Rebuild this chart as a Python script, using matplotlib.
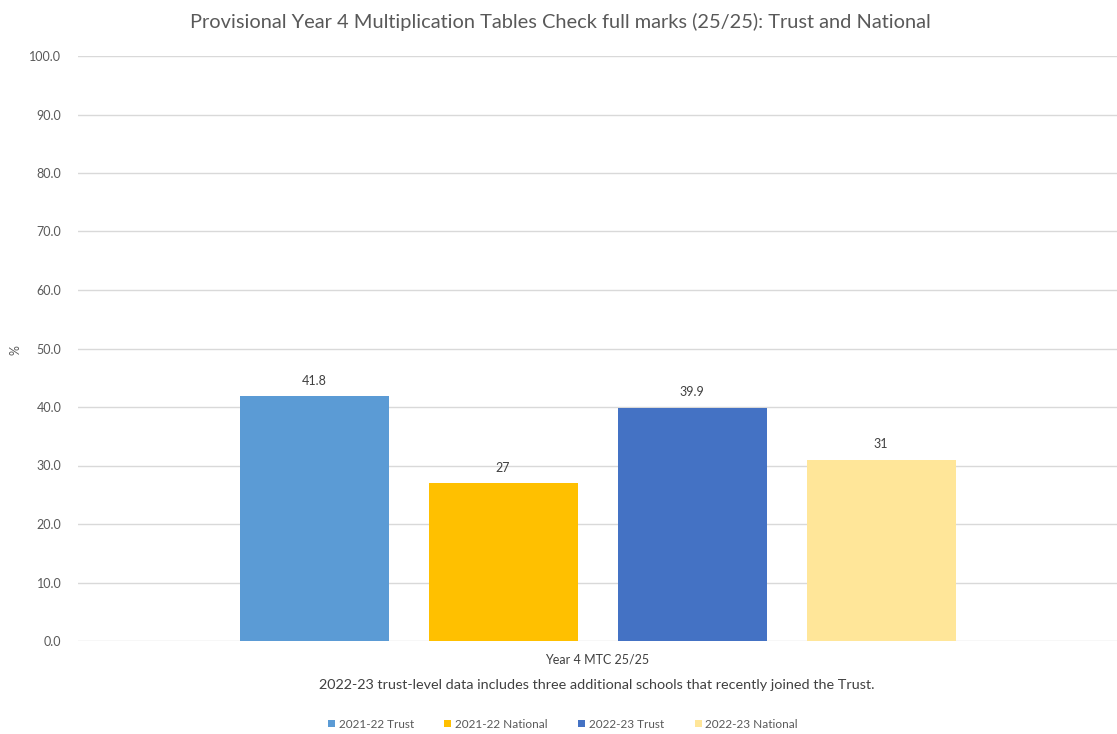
import matplotlib
matplotlib.use("Agg")
import matplotlib.pyplot as plt
from matplotlib.ticker import FuncFormatter, MultipleLocator
from matplotlib.patches import Patch

plt.rcParams['font.family'] = ['Lato', 'DejaVu Sans']

series = ["2021-22 Trust", "2021-22 National", "2022-23 Trust", "2022-23 National"]
values = [41.8, 27, 39.9, 31]
value_labels = ["41.8", "27", "39.9", "31"]
category = "Year 4 MTC 25/25"
colors = ["#5B9BD5", "#FFC000", "#4472C4", "#FFE699"]

fig = plt.figure(figsize=(11.17, 7.34), dpi=100)
ax = fig.add_axes([78/1117, 1-641/734, 1-78/1117, (641-56)/734])

step = 189/1039
width = 149/1039
offsets = [-1.5, -0.5, 0.5, 1.5]
for i, (s, v, c) in enumerate(zip(series, values, colors)):
    x = offsets[i]*step
    ax.bar(x, v, width=width, color=c, zorder=3)
    ax.text(x, v + 1.6, value_labels[i], ha='center', va='bottom', fontsize=9, color='#404040')

ax.set_xlim(-0.5, 0.5)
ax.set_ylim(0, 100)
ax.yaxis.set_major_locator(MultipleLocator(10))
ax.yaxis.set_major_formatter(FuncFormatter(lambda v, p: f"{v:.1f}"))
ax.grid(axis='y', color='#D9D9D9', linewidth=1, zorder=0)
for sp in ax.spines.values():
    sp.set_visible(False)
ax.tick_params(axis='y', length=0, pad=12, labelsize=9, labelcolor='#595959')
ax.set_xticks([])

fig.text(560/1117, 1-22/734, "Provisional Year 4 Multiplication Tables Check full marks (25/25): Trust and National",
         ha='center', va='center', fontsize=14.4, color='#595959')
fig.text(16/1117, 1-350/734, "%", rotation=90, ha='center', va='center', fontsize=9, color='#595959')
fig.text(597/1117, 1-660/734, category, ha='center', va='center', fontsize=9, color='#404040')
fig.text(597/1117, 1-685/734, "2022-23 trust-level data includes three additional schools that recently joined the Trust.",
         ha='center', va='center', fontsize=10.4, color='#404040')

handles = [Patch(facecolor=c, edgecolor='none') for c in colors]
fig.legend(handles, series, loc='center', bbox_to_anchor=(563/1117, 1-724/734), ncol=4, frameon=False,
           fontsize=8.5, handlelength=0.6, handleheight=0.6, handletextpad=0.3, columnspacing=2.6,
           labelcolor='#595959')

fig.savefig("out.png", dpi=100)
